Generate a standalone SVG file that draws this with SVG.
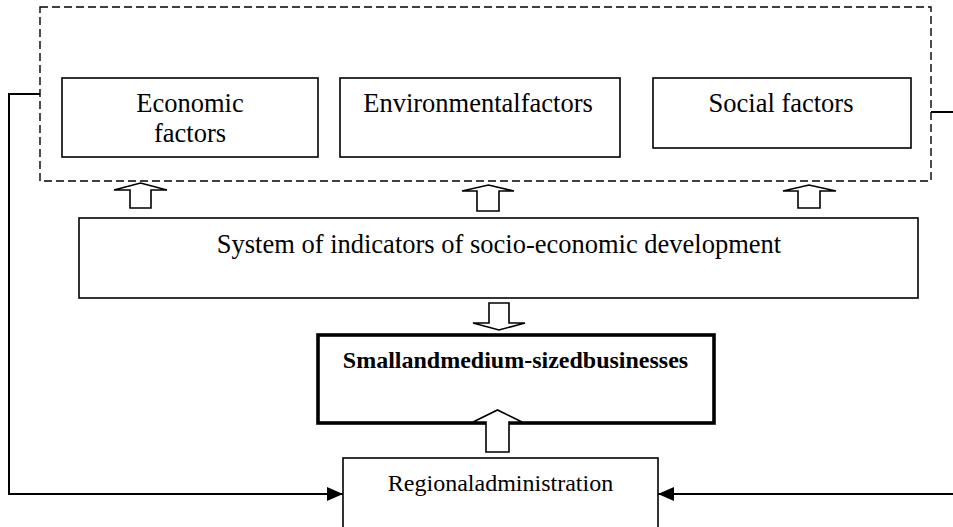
<svg xmlns="http://www.w3.org/2000/svg" width="953" height="527" viewBox="0 0 953 527">
<style>
.box{fill:#fff;stroke:#000;stroke-width:1.6}
.thick{fill:#fff;stroke:#000;stroke-width:3.6}
.dash{fill:none;stroke:#000;stroke-width:1.4;stroke-dasharray:8,4}
.t{font-family:"Liberation Serif","Times New Roman",serif;fill:#000;text-anchor:middle}
.big{font-size:26.5px}
.bold{font-size:24px;font-weight:bold}
.mid{font-size:24px}
.blk{fill:#fff;stroke:#000;stroke-width:1.6;stroke-linejoin:miter}
.conn{fill:none;stroke:#000;stroke-width:2}
</style>
<defs>
<marker id="ah" viewBox="0 0 16 14" refX="16" refY="7" markerWidth="16" markerHeight="14" markerUnits="userSpaceOnUse" orient="auto">
<path d="M0,0 L16,7 L0,14 z" fill="#000"/>
</marker>
</defs>
<g id="factors-group">
<rect class="dash" x="40" y="7" width="891" height="174"/>
</g>
<g id="economic">
<rect class="box" x="62" y="78" width="256" height="79"/>
<text class="t big" x="190" y="112">Economic</text>
<text class="t big" x="190" y="142">factors</text>
</g>
<g id="environmental">
<rect class="box" x="340" y="78" width="280" height="79"/>
<text class="t big" x="478" y="112">Environmentalfactors</text>
</g>
<g id="social">
<rect class="box" x="653" y="78" width="258" height="70"/>
<text class="t big" x="781" y="112">Social factors</text>
</g>
<g id="system">
<rect class="box" x="79" y="218" width="839" height="80"/>
<text class="t big" x="499" y="253">System of indicators of socio-economic development</text>
</g>
<g id="smb">
<rect class="thick" x="318" y="335" width="396" height="88"/>
<text class="t bold" x="515.5" y="368">Smallandmedium-sizedbusinesses</text>
</g>
<g id="regional">
<rect class="box" x="343" y="458" width="315" height="80"/>
<text class="t mid" x="500.5" y="491">Regionaladministration</text>
</g>
<g id="connectors">
<path class="blk" d="M130,208 V190 H114 L140.5,183 L167,190 H151 V208 Z"/>
<path class="blk" d="M477,211 V191 H462 L488.5,185 L514,191 H499 V211 Z"/>
<path class="blk" d="M798,208 V191 H783 L809,185 L836,191 H820 V208 Z"/>
<path class="blk" d="M489,303 V323 H473 L499,330 L525,323 H509 V303 Z"/>
<path class="blk" d="M486,452 V422 H473 L497.5,410 L522,422 H509 V452 Z"/>
<path class="conn" d="M40,94 H9 V494 H343" marker-end="url(#ah)"/>
<path class="conn" d="M931,112 H953"/>
<path class="conn" d="M953,494 H658" marker-end="url(#ah)"/>
</g>
</svg>
